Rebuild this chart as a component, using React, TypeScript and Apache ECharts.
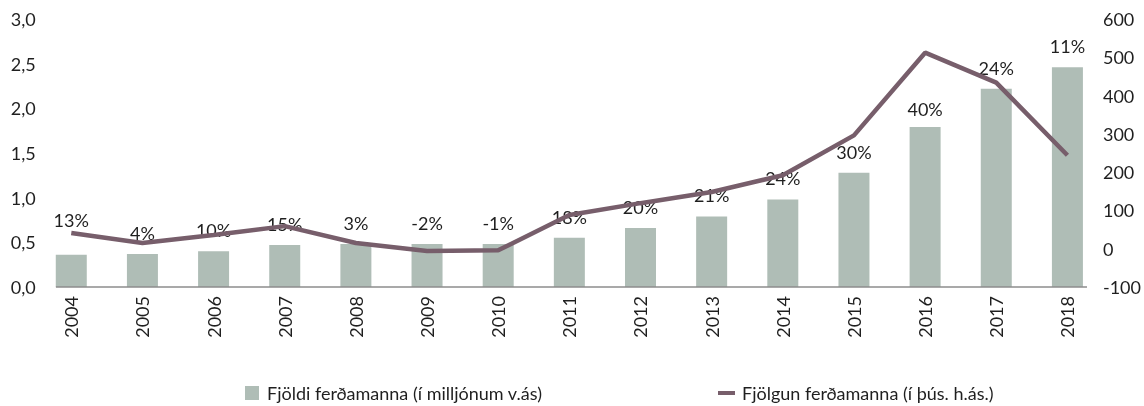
import React, { useEffect, useRef } from "react";
import * as echarts from "echarts";

const years = ["2004","2005","2006","2007","2008","2009","2010","2011","2012","2013","2014","2015","2016","2017","2018"];
const visitors = [0.36,0.37,0.40,0.47,0.48,0.48,0.48,0.55,0.66,0.79,0.98,1.28,1.79,2.22,2.46];
const increase = [41,15,36,59,15,-6,-4,88,119,148,192,296,512,434,244];
const growthPct = [13,4,10,15,3,-2,-1,18,20,21,24,30,40,24,11];
const leftTicks = { min: 0, max: 3, interval: 0.5 };
const rightTicks = { min: -100, max: 600, interval: 100 };

const W = 1144, H = 406;
const GRID = { left: 35.7, right: 36.8, top: 19, bottom: 119 };
const BAR_W = 31;
const FONT = "Lato";
const TXT = "#1f1f1f";

export default function App() {
  const ref = useRef<HTMLDivElement>(null);
  useEffect(() => {
    if (!ref.current) return;
    const chart = echarts.init(ref.current, null, { renderer: "svg" });
    const plotW = W - GRID.left - GRID.right;
    const band = plotW / years.length;
    const x1 = GRID.left + band / 2 - BAR_W / 2;
    const x2 = W - GRID.right - band / 2 + BAR_W / 2;
    const yBase = H - GRID.bottom;
    const labelShift: Record<number, number[]> = { 0: [0, -14], 12: [0, 3] };
    chart.setOption({
      animation: false,
      textStyle: { fontFamily: FONT },
      grid: { ...GRID, containLabel: false },
      legend: [
        {
          data: [{ name: "Fjöldi ferðamanna (í milljónum v.ás)", icon: "rect" }],
          left: 245, top: 384, padding: 0, itemWidth: 14, itemHeight: 14, itemGap: 0,
          textStyle: { fontFamily: FONT, fontSize: 18, color: TXT, padding: [0, 0, 0, 3] },
        },
        {
          data: [{ name: "Fjölgun ferðamanna (í þús. h.ás.)", icon: "rect" }],
          left: 718, top: 384, padding: 0, itemWidth: 17, itemHeight: 4, itemGap: 0,
          textStyle: { fontFamily: FONT, fontSize: 18, color: TXT, padding: [0, 0, 0, 2] },
        },
      ],
      xAxis: {
        type: "category",
        data: years,
        boundaryGap: true,
        axisLine: { show: false },
        axisTick: { show: false },
        axisLabel: { rotate: 90, margin: 9, fontSize: 18, color: TXT, fontFamily: FONT },
      },
      yAxis: [
        {
          type: "value", ...leftTicks,
          splitLine: { show: false }, axisLine: { show: false }, axisTick: { show: false },
          axisLabel: {
            margin: 0, fontSize: 18, color: TXT, fontFamily: FONT,
            formatter: (v: number) => v.toFixed(1).replace(".", ","),
          },
        },
        {
          type: "value", ...rightTicks, position: "right",
          splitLine: { show: false }, axisLine: { show: false }, axisTick: { show: false },
          axisLabel: { margin: 0, fontSize: 18, color: TXT, fontFamily: FONT },
        },
      ],
      graphic: [
        {
          type: "line", z: 10,
          shape: { x1, y1: yBase, x2, y2: yBase },
          style: { stroke: "#8c8c8c", lineWidth: 1.5 },
        },
      ],
      series: [
        {
          name: "Fjöldi ferðamanna (í milljónum v.ás)",
          type: "bar",
          barWidth: BAR_W,
          itemStyle: { color: "#AFBDB6" },
          data: visitors.map((v, i) => ({
            value: v,
            label: labelShift[i] ? { offset: labelShift[i] } : undefined,
          })),
          label: {
            show: true, position: "top", distance: 12,
            fontSize: 18, color: TXT, fontFamily: FONT,
            formatter: (p: any) => growthPct[p.dataIndex] + "%",
          },
        },
        {
          name: "Fjölgun ferðamanna (í þús. h.ás.)",
          type: "line",
          yAxisIndex: 1,
          data: increase,
          symbol: "none",
          lineStyle: { color: "#775E6B", width: 4.5 },
          itemStyle: { color: "#775E6B" },
          z: 3,
        },
      ],
    });
    return () => chart.dispose();
  }, []);
  return <div ref={ref} style={{ position: "fixed", left: 0, top: 0, width: W, height: H }} />;
}
